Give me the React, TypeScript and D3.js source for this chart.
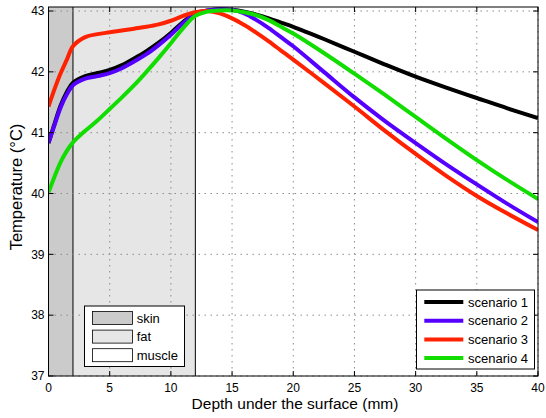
import React from "react";
import * as d3 from "d3";

// Depth samples (mm) shared by every scenario
const depth = [0, 0.5, 1, 1.5, 2, 3, 4, 5, 6, 7, 8, 9, 10, 11, 12, 13, 14, 15, 16, 17, 18, 19, 20, 22.5, 25, 27.5, 30, 32.5, 35, 37.5, 40];

// Temperature profiles (°C)
const scenario1 = [40.83, 41.15, 41.45, 41.67, 41.82, 41.93, 41.98, 42.03, 42.11, 42.22, 42.34, 42.48, 42.64, 42.82, 42.96, 43.01, 43.03, 43.02, 42.99, 42.94, 42.88, 42.81, 42.74, 42.54, 42.33, 42.12, 41.92, 41.74, 41.57, 41.4, 41.24];
const scenario2 = [40.83, 41.13, 41.42, 41.63, 41.78, 41.89, 41.93, 41.98, 42.06, 42.17, 42.29, 42.44, 42.61, 42.8, 42.95, 43.01, 43.03, 43.02, 42.96, 42.85, 42.72, 42.57, 42.42, 42.0, 41.58, 41.19, 40.83, 40.48, 40.15, 39.83, 39.53];
const scenario3 = [41.43, 41.72, 41.98, 42.2, 42.42, 42.57, 42.62, 42.65, 42.68, 42.71, 42.74, 42.78, 42.84, 42.92, 42.98, 43.0, 42.96, 42.88, 42.77, 42.64, 42.5, 42.35, 42.2, 41.82, 41.43, 41.03, 40.65, 40.29, 39.96, 39.67, 39.4];
const scenario4 = [40.02, 40.28, 40.52, 40.7, 40.84, 41.03, 41.2, 41.39, 41.58, 41.78, 42.0, 42.23, 42.47, 42.72, 42.92, 42.99, 43.01, 43.01, 42.98, 42.93, 42.85, 42.74, 42.63, 42.31, 41.97, 41.62, 41.26, 40.9, 40.55, 40.22, 39.91];

const seriesNames = ["scenario 1", "scenario 2", "scenario 3", "scenario 4"];
const seriesColors = ["#000000", "#5500ff", "#ff2200", "#11dd00"];
const seriesValues = [scenario1, scenario2, scenario3, scenario4];

// Tissue layers (mm)
const layerNames = ["skin", "fat", "muscle"];
const layerStart = [0, 2, 12];
const layerEnd = [2, 12, 40];
const layerColors = ["#cbcbcb", "#e6e6e6", "#ffffff"];

const xTicks = [0, 5, 10, 15, 20, 25, 30, 35, 40];
const yTicks = [37, 38, 39, 40, 41, 42, 43];

const W = 546;
const H = 418;
const left = 48.5;
const right = 538;
const top = 7;
const bottom = 376;
const font = "'Liberation Sans', Arial, Helvetica, sans-serif";

export default function App() {
  const x = d3.scaleLinear().domain([0, 40]).range([left, right]);
  const y = d3.scaleLinear().domain([37, 43.066]).range([bottom, top]);
  const line = d3
    .line<number>()
    .x((_, i) => x(depth[i]))
    .y((d) => y(d))
    .curve(d3.curveCatmullRom.alpha(0.5));
  const tickLen = 5;

  return (
    <svg
      width={W}
      height={H}
      style={{ position: "absolute", left: 0, top: 0, background: "#fff" }}
      fontFamily={font}
    >
      <defs>
        <clipPath id="plot">
          <rect x={left} y={top} width={right - left} height={bottom - top} />
        </clipPath>
      </defs>
      <rect x={0} y={0} width={W} height={H} fill="#fff" />

      {/* tissue layers */}
      {layerNames.map((n, i) => (
        <rect
          key={n}
          x={x(layerStart[i])}
          y={top}
          width={x(layerEnd[i]) - x(layerStart[i])}
          height={bottom - top}
          fill={layerColors[i]}
        />
      ))}
      {[layerEnd[0], layerEnd[1]].map((v) => (
        <line key={v} x1={x(v)} x2={x(v)} y1={top} y2={bottom} stroke="#000" strokeWidth={1} />
      ))}

      {/* grid */}
      <g stroke="#8c8c8c" strokeWidth={1} strokeDasharray="1.5,4.5">
        {xTicks.map((t) => (
          <line key={"gx" + t} x1={x(t)} x2={x(t)} y1={top} y2={bottom} />
        ))}
        {yTicks.map((t) => (
          <line key={"gy" + t} x1={left} x2={right} y1={y(t)} y2={y(t)} />
        ))}
      </g>

      {/* scenario curves */}
      <g clipPath="url(#plot)" fill="none" strokeWidth={4} strokeLinejoin="round">
        {seriesValues.map((vals, i) => (
          <path key={seriesNames[i]} d={line(vals) || ""} stroke={seriesColors[i]} />
        ))}
      </g>

      {/* axes box and ticks */}
      <rect x={left} y={top} width={right - left} height={bottom - top} fill="none" stroke="#000" strokeWidth={1} />
      <g stroke="#000" strokeWidth={1}>
        {xTicks.map((t) => (
          <g key={"tx" + t}>
            <line x1={x(t)} x2={x(t)} y1={bottom} y2={bottom - tickLen} />
            <line x1={x(t)} x2={x(t)} y1={top} y2={top + tickLen} />
          </g>
        ))}
        {yTicks.map((t) => (
          <g key={"ty" + t}>
            <line x1={left} x2={left + tickLen} y1={y(t)} y2={y(t)} />
            <line x1={right} x2={right - tickLen} y1={y(t)} y2={y(t)} />
          </g>
        ))}
      </g>
      <g fontSize={12} fill="#000">
        {xTicks.map((t) => (
          <text key={"lx" + t} x={x(t)} y={392} textAnchor="middle">
            {t}
          </text>
        ))}
        {yTicks.map((t) => (
          <text key={"ly" + t} x={44.5} y={y(t)} dy="0.36em" textAnchor="end">
            {t}
          </text>
        ))}
      </g>
      <text x={295} y={409} fontSize={15.5} textAnchor="middle">
        Depth under the surface (mm)
      </text>
      <text transform="translate(21.5,187) rotate(-90)" fontSize={16.5} textAnchor="middle">
        Temperature (°C)
      </text>

      {/* tissue legend */}
      <g fontSize={13}>
        <rect x={84.5} y={306} width={100} height={60.5} fill="#fff" stroke="#000" strokeWidth={1} />
        {layerNames.map((n, i) => (
          <g key={"lg" + n}>
            <rect x={92.5} y={311.5 + i * 18.6} width={40} height={13} fill={layerColors[i]} stroke="#000" strokeWidth={0.8} />
            <text x={136.7} y={322.7 + i * 18.6}>
              {n}
            </text>
          </g>
        ))}
      </g>

      {/* scenario legend */}
      <g fontSize={13}>
        <rect x={416.5} y={290} width={118} height={79} fill="#fff" stroke="#000" strokeWidth={1} />
        {seriesNames.map((n, i) => (
          <g key={"ls" + n}>
            <line x1={424.3} x2={463.3} y1={302 + i * 18.7} y2={302 + i * 18.7} stroke={seriesColors[i]} strokeWidth={4} />
            <text x={468} y={306.7 + i * 18.7}>
              {n}
            </text>
          </g>
        ))}
      </g>
    </svg>
  );
}
